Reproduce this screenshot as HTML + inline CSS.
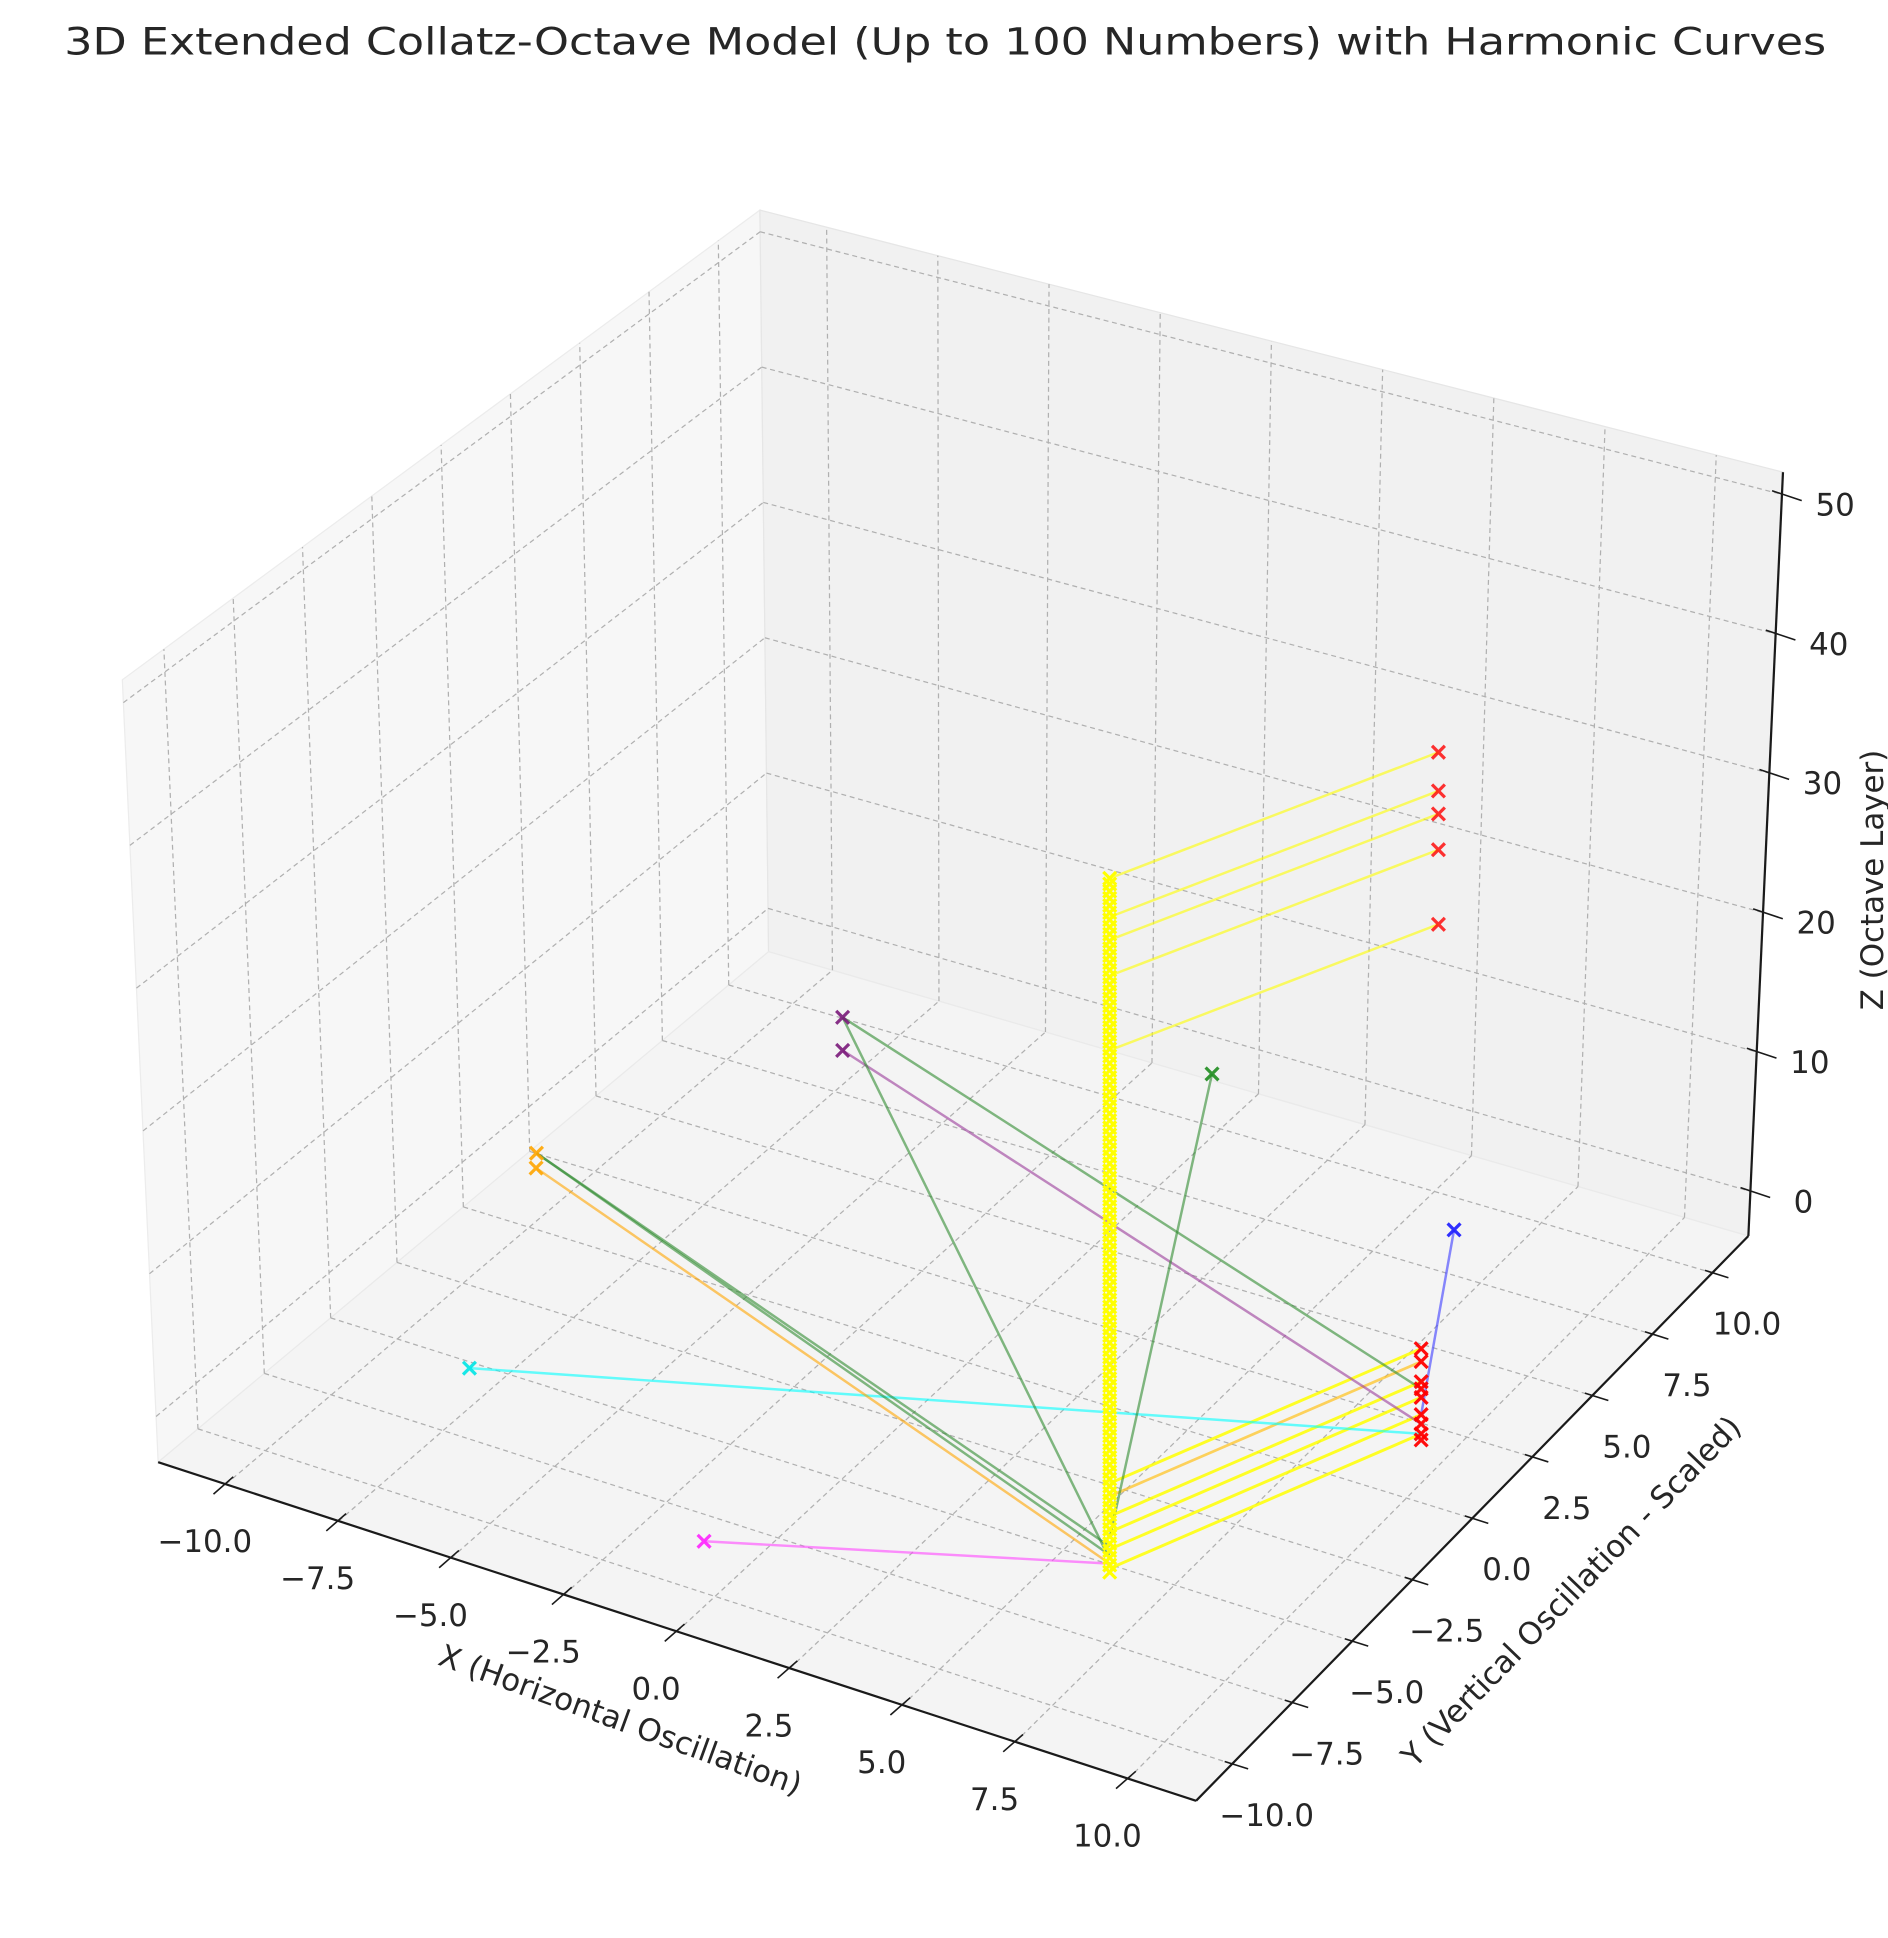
<!DOCTYPE html>
<html><head><meta charset="utf-8"><title>3D Extended Collatz-Octave Model</title>
<style>
html,body{margin:0;padding:0;background:#fff;}
svg{display:block;}
text{font-family:"DejaVu Sans","Liberation Sans",sans-serif;fill:#262626;}
</style></head>
<body>
<svg id="chart" width="1888" height="1938" viewBox="0 0 1528 1568" preserveAspectRatio="none" xmlns="http://www.w3.org/2000/svg">
<rect x="0" y="0" width="1528" height="1568" fill="#ffffff"/>
<text x="765" y="44" font-size="30" text-anchor="middle" textLength="1426" lengthAdjust="spacingAndGlyphs">3D Extended Collatz-Octave Model (Up to 100 Numbers) with Harmonic Curves</text>
<g id="panes"></g>
<g id="grid"></g>
<g id="axes"></g>
<g id="lines"></g>
<g id="marks"></g>
<text x="502" y="1400" font-size="25" text-anchor="middle" transform="rotate(20 502 1392)">X (Horizontal Oscillation)</text>
<text x="1272" y="1296" font-size="25" text-anchor="middle" transform="rotate(-46 1272 1288)">Y (Vertical Oscillation - Scaled)</text>
<text x="1515" y="721" font-size="25" text-anchor="middle" transform="rotate(-90 1515 712)">Z (Octave Layer)</text>
</svg>
<script>
// ---- chart data ----
const xTicks = [-10, -7.5, -5, -2.5, 0, 2.5, 5, 7.5, 10];
const xTickLabels = ["−10.0","−7.5","−5.0","−2.5","0.0","2.5","5.0","7.5","10.0"];
const yTicks = [-10, -7.5, -5, -2.5, 0, 2.5, 5, 7.5, 10];
const yTickLabels = ["−10.0","−7.5","−5.0","−2.5","0.0","2.5","5.0","7.5","10.0"];
const zTicks = [0, 10, 20, 30, 40, 50];
const zTickLabels = ["0","10","20","30","40","50"];

// yellow column (fixed x,y, many octave layers)
const columnX = 6.38;
const columnY = -5.46;
const columnZ = [0,0.5,1,1.5,2,2.5,3,3.5,4,4.5,5,5.5,6,6.5,7,7.5,8,8.5,9,9.5,10,10.5,11,11.5,12,12.5,13,13.5,14,14.5,15,15.5,16,16.5,17,17.5,18,18.5,19,19.5,20,20.5,21,21.5,22,22.5,23,23.5,24,24.5,25,25.5,26,26.5,27,27.5,28,28.5,29,29.5,30,30.5,31,31.5,32,32.5,33,33.5,34,34.5,35,35.5,36,36.5,37,37.5,38,38.5,39,39.5,40,40.5,41,41.5,42,42.5,43,43.5,44,44.5,45,45.5,46,46.5,47,47.5,48,48.4];

// upper red endpoints
const upperRedX = 9.76;
const upperRedY = 1.70;
const upperRedZ = [48.4, 45.7, 44.1, 41.6, 36.4];

// lower red endpoints
const lowerRedX = 9.32;
const lowerRedY = 1.78;
const lowerRedZ = [6.2, 5.3, 3.9, 3.4, 2.8, 1.6, 0.95, 0.26, -0.17];
const lowerYellowLinks = [0, 2, 4, 5, 7];
const lowerOrangeLinks = [1];

// other single points
const otherNames = ["cyan","magenta","purple-a","purple-b","orange-a","orange-b","green","blue"];
const otherX = [-7.94, -1.0, -7.68, -7.11, -10.51, -10.26, -0.47, 6.30];
const otherY = [-5.94, -8.71, 8.41, 7.42, 1.19, 0.74, 10.52, 8.34];
const otherZ = [0, 0, 0, 0, 0, 0, 0, 0];
const otherColors = ["#00e5e5","#ff22ff","#7a1a7a","#7a1a7a","#ffa500","#ffa500","#1e8c1e","#1a1aff"];

// links from other points: source index, target type, target value (z), colour
const linkSource = [0, 1, 3, 2, 2, 4, 4, 5, 6, 7];
const linkTarget = ["red","col","red","red","col","col","col","col","col","red"];
const linkTargetZ = [0.26, 0.6, 0.95, 3.4, 0.9, 1.8, 1.2, 0.6, 2.4, 1.6];
const linkColors = ["#00ffff","#ff44ff","#9a3a9a","#2e8b2e","#2e8b2e","#2e8b2e","#2e8b2e","#ffa500","#2e8b2e","#3a3aff"];

// ---- axis geometry ----
const XMIN=-11.5, XMAX=11.5, YMIN=-11.5, YMAX=11.5, ZMIN=-3.2, ZMAX=51.6;
const C = {
  "000":[128,1183],"100":[968,1457],"110":[1415,1000],"010":[622,770],
  "001":[99,550],"101":[968,802],"111":[1443,382],"011":[615,170]
};
function lerp(a,b,t){return [a[0]+(b[0]-a[0])*t, a[1]+(b[1]-a[1])*t];}
function tri(u,v,w){
  const f=lerp(lerp(C["000"],C["100"],u),lerp(C["010"],C["110"],u),v);
  const t=lerp(lerp(C["001"],C["101"],u),lerp(C["011"],C["111"],u),v);
  return lerp(f,t,w);
}
function ux(x){return (x-XMIN)/(XMAX-XMIN);}
function vy(y){return (y-YMIN)/(YMAX-YMIN);}
function wz(z){return (z-ZMIN)/(ZMAX-ZMIN);}
// data projection
function proj(x,y,z){return [783+35.5*x+20.4*y, 1085+12.2*x-20*y-11.6*z];}

const NS="http://www.w3.org/2000/svg";
function mk(tag,attrs,parent){const e=document.createElementNS(NS,tag);for(const k in attrs)e.setAttribute(k,attrs[k]);parent.appendChild(e);return e;}
const gP=document.getElementById("panes"),gG=document.getElementById("grid"),gA=document.getElementById("axes"),gL=document.getElementById("lines"),gM=document.getElementById("marks");
function poly(pts){return pts.map(p=>p[0].toFixed(1)+","+p[1].toFixed(1)).join(" ");}

// panes
let e;
e=mk("polygon",{points:poly([tri(0,0,0),tri(0,1,0),tri(0,1,1),tri(0,0,1)]),fill:"#f7f7f7",stroke:"#ececec","stroke-width":1},gP);


e=mk("polygon",{points:poly([tri(0,1,0),tri(1,1,0),tri(1,1,1),tri(0,1,1)]),fill:"#f1f1f1",stroke:"#e6e6e6","stroke-width":1},gP);


e=mk("polygon",{points:poly([tri(0,0,0),tri(1,0,0),tri(1,1,0),tri(0,1,0)]),fill:"#f4f4f4",stroke:"#eaeaea","stroke-width":1},gP);



function gline(a,b,name){
  const l=mk("line",{x1:a[0],y1:a[1],x2:b[0],y2:b[1],stroke:"#b0b0b0","stroke-width":1,"stroke-dasharray":"4,3"},gG);
  
  
}
xTicks.forEach(x=>{const u=ux(x);gline(tri(u,0,0),tri(u,1,0),"x-gridline");gline(tri(u,1,0),tri(u,1,1),"x-gridline");});
yTicks.forEach(y=>{const v=vy(y);gline(tri(0,v,0),tri(1,v,0),"y-gridline");gline(tri(0,v,0),tri(0,v,1),"y-gridline");});
zTicks.forEach(z=>{const w=wz(z);gline(tri(0,0,w),tri(0,1,w),"z-gridline");gline(tri(0,1,w),tri(1,1,w),"z-gridline");});

// axis lines
function aline(a,b,name){
  const l=mk("line",{x1:a[0],y1:a[1],x2:b[0],y2:b[1],stroke:"#1a1a1a","stroke-width":1.8},gA);
  
  
}
aline(tri(0,0,0),tri(1,0,0),"x-axis-line");
aline(tri(1,0,0),tri(1,1,0),"y-axis-line");
aline(tri(1,1,0),tri(1,1,1),"z-axis-line");
function tick(p,d1,d2,lab,off,name){
  const l=mk("line",{x1:p[0]+d1[0],y1:p[1]+d1[1],x2:p[0]+d2[0],y2:p[1]+d2[1],stroke:"#1a1a1a","stroke-width":1.3},gA);
  
  
  const t=mk("text",{x:p[0]+off[0],y:p[1]+off[1]+9,"font-size":25,"text-anchor":"middle"},gA);
  t.textContent=lab;
  
  
}
xTicks.forEach((x,i)=>tick(tri(ux(x),0,0),[6,-6],[-10,8],xTickLabels[i],[-17,46],"x"));
yTicks.forEach((y,i)=>tick(tri(1,vy(y),0),[-6,-2],[13,4],yTickLabels[i],[28,41],"y"));
zTicks.forEach((z,i)=>tick(tri(1,1,wz(z)),[-8,-3],[16,5],zTickLabels[i],[43,8],"z"));

// ---- data marks ----
function seg(a,b,color,op,w,name){
  const l=mk("line",{x1:a[0],y1:a[1],x2:b[0],y2:b[1],stroke:color,"stroke-opacity":op,"stroke-width":w},gL);
  
  
}
function marker(p,color,op,name){
  const s=5.2;
  const m=mk("path",{d:`M${p[0]-s},${p[1]-s}L${p[0]+s},${p[1]+s}M${p[0]-s},${p[1]+s}L${p[0]+s},${p[1]-s}`,stroke:color,"stroke-opacity":op,"stroke-width":2.6,fill:"none"},gM);
  
  
}
upperRedZ.forEach(z=>{seg(proj(columnX,columnY,z),proj(upperRedX,upperRedY,z),"#ffff00",0.6,2,"upper-yellow-link");});
lowerYellowLinks.forEach(i=>{const z=lowerRedZ[i];seg(proj(columnX,columnY,z),proj(lowerRedX,lowerRedY,z),"#ffff00",0.85,2.4,"lower-yellow-link");});
lowerOrangeLinks.forEach(i=>{const z=lowerRedZ[i];seg(proj(columnX,columnY,z),proj(lowerRedX,lowerRedY,z),"#ffc21a",0.7,2.2,"lower-orange-link");});
linkSource.forEach((s,k)=>{
  const a=proj(otherX[s],otherY[s],otherZ[s]);
  const b=linkTarget[k]==="red"?proj(lowerRedX,lowerRedY,linkTargetZ[k]):proj(columnX,columnY,linkTargetZ[k]);
  seg(a,b,linkColors[k],0.6,2,"link-"+otherNames[s]);
});
columnZ.forEach(z=>marker(proj(columnX,columnY,z),"#ffff00",1,"column-point"));
upperRedZ.forEach(z=>marker(proj(upperRedX,upperRedY,z),"#ff0000",0.8,"upper-red-point"));
lowerRedZ.forEach(z=>marker(proj(lowerRedX,lowerRedY,z),"#ff0000",0.95,"lower-red-point"));
otherX.forEach((x,i)=>marker(proj(x,otherY[i],otherZ[i]),otherColors[i],0.9,otherNames[i]+"-point"));
</script>
</body></html>
